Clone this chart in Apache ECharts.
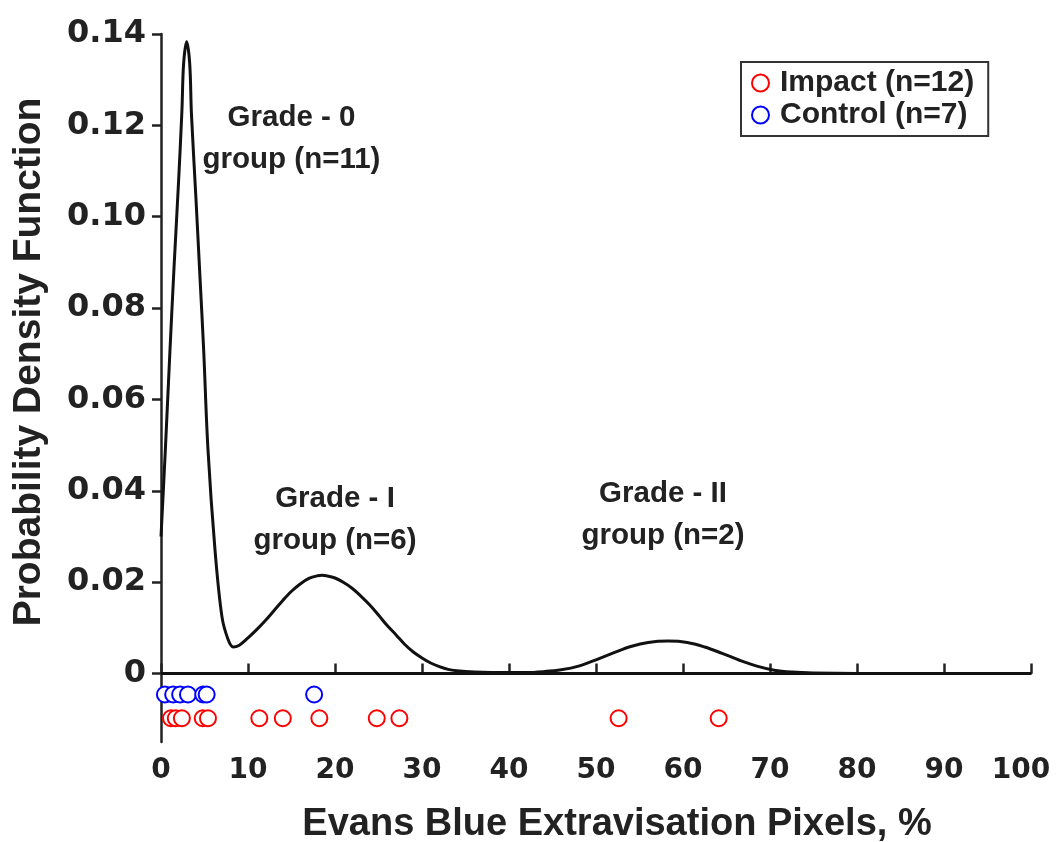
<!DOCTYPE html>
<html>
<head>
<meta charset="utf-8">
<script src="https://cdn.jsdelivr.net/npm/echarts@6/dist/echarts.min.js"></script>
<style>
  html, body { margin: 0; padding: 0; background: #fff; }
  #chart { width: 1057px; height: 842px; }
</style>
</head>
<body>
<div id="chart"></div>
<script>
// density curve
const pdfX = [0, 0.5, 1, 1.5, 2, 2.4, 2.6, 2.95, 3.3, 3.5, 4, 4.5, 4.9, 5.4, 6.2, 7, 7.7, 8.3, 9, 10, 11, 12, 13, 14, 15, 16, 17, 18, 18.5, 19, 20, 21, 22, 23, 24, 25, 26, 27, 28, 29, 30, 31, 32, 33, 34, 36, 38, 40, 42, 44, 46, 48, 50, 52, 54, 56, 58.3, 60.5, 62.5, 64.5, 66.5, 68.5, 70.5, 72.5, 75, 80, 100];
const pdfY = [0.030, 0.049, 0.0695, 0.089, 0.107, 0.123, 0.1335, 0.1383, 0.1335, 0.1225, 0.1046, 0.086, 0.071, 0.049, 0.0272, 0.0125, 0.0075, 0.0058, 0.0062, 0.0078, 0.0096, 0.0116, 0.0138, 0.0160, 0.0180, 0.0196, 0.0208, 0.0214, 0.0215, 0.0214, 0.0209, 0.0199, 0.0186, 0.0169, 0.0150, 0.0128, 0.0105, 0.0085, 0.0064, 0.0047, 0.0034, 0.0023, 0.0015, 0.0009, 0.0006, 0.0003, 0.0002, 0.0002, 0.0002, 0.0004, 0.0008, 0.0016, 0.0030, 0.0045, 0.0059, 0.0068, 0.0071, 0.0068, 0.0058, 0.0044, 0.0029, 0.0016, 0.0007, 0.0003, 0.0001, 0, 0];

// individual samples (rug)
const impactX = [1.15, 1.7, 2.4, 4.8, 5.4, 11.3, 14.0, 18.2, 24.8, 27.4, 52.6, 64.1];
const impactY = -0.0098;
const controlX = [0.45, 1.4, 2.2, 3.1, 4.85, 5.25, 17.6];
const controlY = -0.0046;

const yTicks = [0, 0.02, 0.04, 0.06, 0.08, 0.10, 0.12, 0.14];

const notes = [
    { text: "Grade - 0\ngroup (n=11)", x: 15.0, y: 0.1171 },
    { text: "Grade - I\ngroup (n=6)", x: 20.0, y: 0.0336 },
    { text: "Grade - II\ngroup (n=2)", x: 57.7, y: 0.0347 },
];

const TXT = "'Liberation Sans', Arial, sans-serif";
const NUM = "'DejaVu Sans', sans-serif";

const chart = echarts.init(document.getElementById("chart"));

chart.setOption({
    animation: false,
    grid: { left: 161, right: 26, top: 34, bottom: 100, outerBoundsMode: "none", containLabel: false },
    legend: {
        orient: "vertical",
        left: 741,
        top: 62,
        padding: [6, 14, 6, 10],
        borderColor: "#333",
        borderWidth: 2,
        itemWidth: 17,
        itemHeight: 17,
        itemGap: 2,
        data: ["Impact (n=12)", "Control (n=7)"],
        textStyle: { fontFamily: TXT, fontWeight: "bold", fontSize: 30, color: "#222", lineHeight: 30, padding: [0, 0, 0, 6] },
    },
    xAxis: {
        type: "value",
        min: 0,
        max: 100,
        interval: 10,
        name: "Evans Blue Extravisation Pixels, %",
        nameLocation: "middle",
        nameGap: 64,
        nameTextStyle: { fontFamily: TXT, fontWeight: "bold", fontSize: 38, color: "#222", padding: [0, 0, 0, 42] },
        axisLine: { lineStyle: { color: "#222", width: 2.5 } },
        axisTick: { inside: true, length: 10, lineStyle: { color: "#222", width: 2.5 } },
        axisLabel: {
            fontFamily: NUM,
            fontWeight: "bold",
            fontSize: 28,
            color: "#222",
            margin: 15,
            formatter: (v) => (v === 100 ? "{last|100}" : String(v)),
            rich: { last: { fontFamily: NUM, fontWeight: "bold", fontSize: 28, color: "#222", padding: [0, 20, 0, 0] } },
        },
        splitLine: { show: false },
    },
    yAxis: {
        type: "value",
        min: -0.015,
        max: 0.14,
        name: "Probability Density Function",
        nameLocation: "middle",
        nameGap: 112,
        nameTextStyle: { fontFamily: TXT, fontWeight: "bold", fontSize: 39, color: "#222", padding: [0, 0, 0, 52] },
        axisLine: { show: true, lineStyle: { color: "#222", width: 2.5 } },
        axisTick: { show: true, length: 9, customValues: yTicks, lineStyle: { color: "#222", width: 2.5 } },
        axisLabel: {
            customValues: yTicks,
            fontFamily: NUM,
            fontWeight: "bold",
            fontSize: 32,
            color: "#222",
            margin: 15,
            formatter: (v) => (v === 0 ? "0" : v.toFixed(2)),
        },
        splitLine: { show: false },
    },
    series: [
        {
            name: "zero",
            type: "line",
            data: [[0, 0], [100, 0]],
            symbol: "none",
            lineStyle: { color: "#111", width: 3 },
            silent: true,
        },
        {
            name: "pdf",
            type: "line",
            data: pdfX.map((x, i) => [x, pdfY[i]]),
            symbol: "none",
            smooth: 0.35,
            lineStyle: { color: "#111", width: 3 },
            z: 3,
        },
        {
            name: "Impact (n=12)",
            type: "scatter",
            data: impactX.map((x) => [x, impactY]),
            symbol: "emptyCircle",
            symbolSize: 16,
            itemStyle: { color: "#ff0000", borderColor: "#ff0000", borderWidth: 3, opacity: 1 },
            z: 4,
        },
        {
            name: "Control (n=7)",
            type: "scatter",
            data: controlX.map((x) => [x, controlY]),
            symbol: "emptyCircle",
            symbolSize: 16,
            itemStyle: { color: "#0000ff", borderColor: "#0000ff", borderWidth: 3, opacity: 1 },
            z: 4,
        },
        {
            name: "notes",
            type: "scatter",
            data: notes.map((n) => ({ value: [n.x, n.y], name: n.text })),
            symbolSize: 0,
            silent: true,
            itemStyle: { opacity: 1 },
            label: {
                show: true,
                position: "inside",
                formatter: (p) => p.name,
                fontFamily: TXT,
                fontWeight: "bold",
                fontSize: 29.5,
                lineHeight: 42,
                color: "#222",
                align: "center",
            },
        },
    ],
});
</script>
</body>
</html>
